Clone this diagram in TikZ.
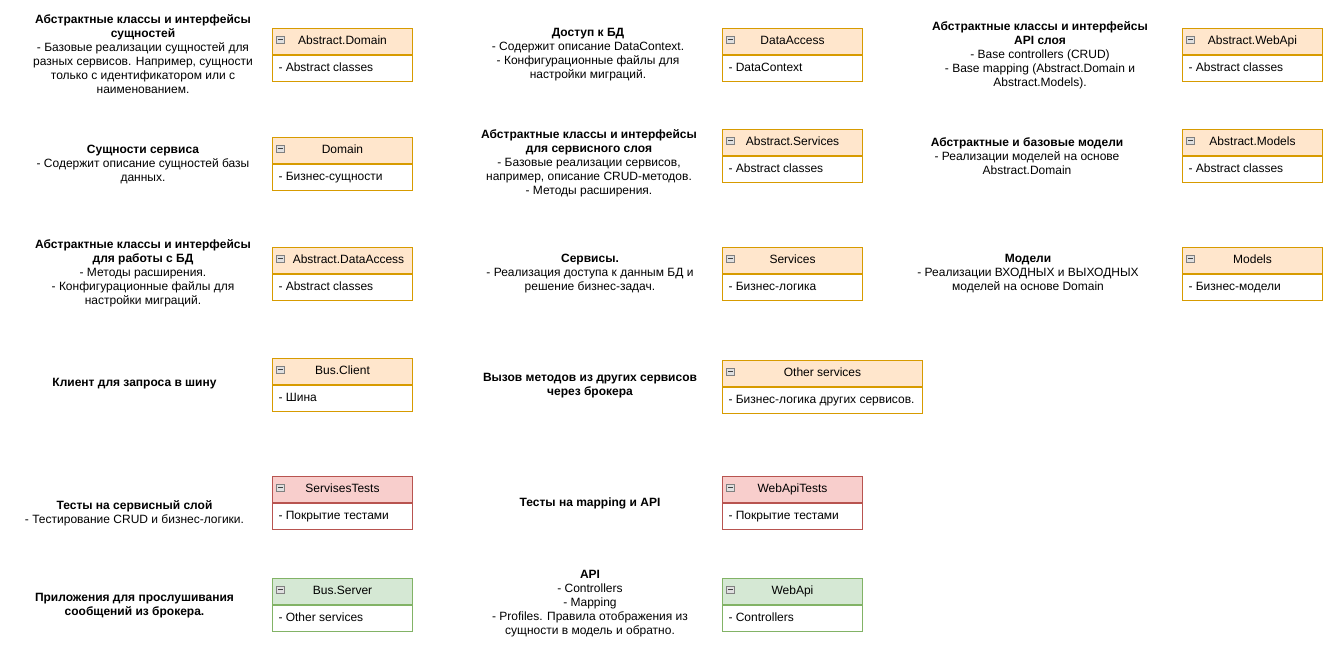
\documentclass[tikz,border=0pt]{standalone}
\usepackage{fontspec}
\setmainfont{Liberation Sans}
\usetikzlibrary{positioning}
\definecolor{orangefill}{HTML}{FFE6CC}
\definecolor{orangeline}{HTML}{D79B00}
\definecolor{redfill}{HTML}{F8CECC}
\definecolor{redline}{HTML}{B85450}
\definecolor{greenfill}{HTML}{D5E8D4}
\definecolor{greenline}{HTML}{82B366}
\tikzset{
  note/.style    = {align=center, inner sep=0pt, font=\fontsize{9pt}{10.5pt}\selectfont},
  boxhead/.style = {draw=#1line, fill=#1fill, line width=0.75pt, anchor=north west,
                    minimum height=19.5pt, inner xsep=0pt,
                    text height=6.6pt, text depth=1.9pt, font=\fontsize{9pt}{10.5pt}\selectfont},
  boxbody/.style = {draw=#1line, fill=white, line width=0.75pt, anchor=north west,
                    minimum height=19.5pt, inner xsep=4.5pt,
                    text height=6.6pt, text depth=1.9pt, font=\fontsize{9pt}{10.5pt}\selectfont},
  collapse/.style = {draw=gray, fill=gray!25, line width=0.5pt, minimum size=5.8pt, inner sep=0pt,
                    path picture={\draw[black!75, line width=0.6pt]
                      ([xshift=1.1pt]path picture bounding box.west) --
                      ([xshift=-1.1pt]path picture bounding box.east);}},
}
% #1 name, #2 top-left, #3 width, #4 colour, #5 title, #6 item
\newcommand{\classbox}[6]{%
  \pgfmathsetlengthmacro{\bodywidth}{#3-9pt}%
  \node[boxhead=#4] (#1) at #2 {\makebox[#3][c]{#5}};
  \node[boxbody=#4] (#1-body) at ([yshift=0.1pt]#1.south west) {\makebox[\bodywidth][l]{#6}};
  \node[collapse] (#1-icon) at ([xshift=6.4pt, yshift=-8.9pt]#1.north west) {};
}

\begin{document}
\begin{tikzpicture}[x=0.75pt, y=-0.75pt]
	\useasboundingbox (0,0) rectangle (1336,651);

	% first column
	\node[note] (adomain-note) at (143,54) {\textbf{Абстрактные классы и интерфейсы}\\\textbf{сущностей}\\- Базовые реализации сущностей для\\разных сервисов. Например, сущности\\только с идентификатором или с\\наименованием.};
	\classbox{adomain}{(272,28)}{105pt}{orange}{Abstract.Domain}{- Abstract classes}
	\node[note] (domain-note) at (143,164) {\textbf{Сущности сервиса}\\- Содержит описание сущностей базы\\данных.};
	\classbox{domain}{(272,137)}{105pt}{orange}{Domain}{- Бизнес-сущности}
	\node[note] (adataaccess-note) at (143,273.5) {\textbf{Абстрактные классы и интерфейсы}\\\textbf{для работы с БД}\\- Методы расширения.\\- Конфигурационные файлы для\\настройки миграций.};
	\classbox{adataaccess}{(272,247)}{105pt}{orange}{\hspace*{9pt}Abstract.DataAccess}{- Abstract classes}
	\node[note] (busclient-note) at (134.5,384) {\textbf{Клиент для запроса в шину}};
	\classbox{busclient}{(272,358)}{105pt}{orange}{Bus.Client}{- Шина}
	\node[note] (servicetests-note) at (134.5,513.5) {\textbf{Тесты на сервисный слой}\\- Тестирование CRUD и бизнес-логики.};
	\classbox{servicetests}{(272,476)}{105pt}{red}{ServisesTests}{- Покрытие тестами}
	\node[note] (busserver-note) at (134.5,605.5) {\textbf{Приложения для прослушивания}\\\textbf{сообщений из брокера.}};
	\classbox{busserver}{(272,578)}{105pt}{green}{Bus.Server}{- Other services}

	% second column
	\node[note] (dataaccess-note) at (588,55) {\textbf{Доступ к БД}\\- Содержит описание DataContext.\\- Конфигурационные файлы для\\настройки миграций.};
	\classbox{dataaccess}{(722,28)}{105pt}{orange}{DataAccess}{- DataContext}
	\node[note] (aservices-note) at (589,163.5) {\textbf{Абстрактные классы и интерфейсы}\\\textbf{для сервисного слоя}\\- Базовые реализации сервисов,\\например, описание CRUD-методов.\\- Методы расширения.};
	\classbox{aservices}{(722,129)}{105pt}{orange}{Abstract.Services}{- Abstract classes}
	\node[note] (services-note) at (590,274) {\textbf{Сервисы.}\\- Реализация доступа к данным БД и\\решение бизнес-задач.};
	\classbox{services}{(722,247)}{105pt}{orange}{Services}{- Бизнес-логика}
	\node[note] (otherservices-note) at (590,386) {\textbf{Вызов методов из других сервисов}\\\textbf{через брокера}};
	\classbox{otherservices}{(722,360)}{150pt}{orange}{Other services}{- Бизнес-логика других сервисов.}
	\node[note] (webapitests-note) at (590,503) {\textbf{Тесты на mapping и API}};
	\classbox{webapitests}{(722,476)}{105pt}{red}{WebApiTests}{- Покрытие тестами}
	\node[note] (webapi-note) at (590,604) {\textbf{API}\\- Controllers\\- Mapping\\- Profiles. Правила отображения из\\сущности в модель и обратно.};
	\classbox{webapi}{(722,578)}{105pt}{green}{WebApi}{- Controllers}

	% third column
	\node[note] (awebapi-note) at (1040,55.5) {\textbf{Абстрактные классы и интерфейсы}\\\textbf{API слоя}\\- Base controllers (CRUD)\\- Base mapping (Abstract.Domain и\\Abstract.Models).};
	\classbox{awebapi}{(1182,28)}{105pt}{orange}{Abstract.WebApi}{- Abstract classes}
	\node[note] (amodels-note) at (1027,156) {\textbf{Абстрактные и базовые модели}\\- Реализации моделей на основе\\Abstract.Domain};
	\classbox{amodels}{(1182,129)}{105pt}{orange}{Abstract.Models}{- Abstract classes}
	\node[note] (models-note) at (1028,274) {\textbf{Модели}\\- Реализации ВХОДНЫХ и ВЫХОДНЫХ\\моделей на основе Domain};
	\classbox{models}{(1182,247)}{105pt}{orange}{Models}{- Бизнес-модели}
\end{tikzpicture}
\end{document}
